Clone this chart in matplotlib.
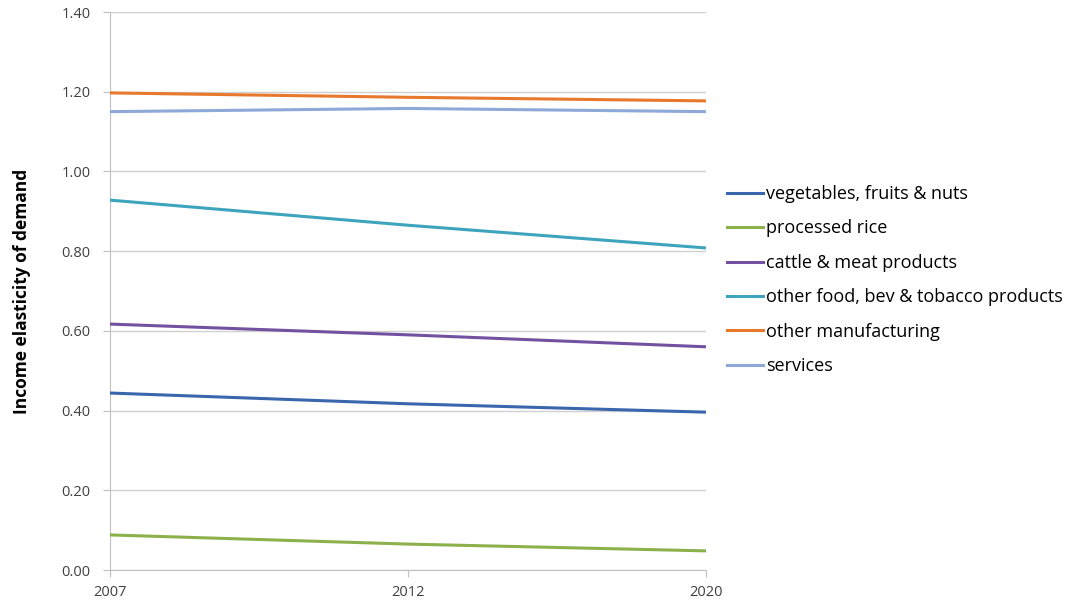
import matplotlib
matplotlib.use('Agg')
import matplotlib.pyplot as plt
from matplotlib.lines import Line2D

plt.rcParams['font.family'] = ['Open Sans', 'DejaVu Sans']

# data
years = ['2007', '2012', '2020']
veg = [0.444, 0.417, 0.396]
rice = [0.088, 0.065, 0.048]
cattle = [0.617, 0.590, 0.560]
other_food = [0.928, 0.865, 0.808]
other_manuf = [1.197, 1.186, 1.177]
services = [1.150, 1.158, 1.150]

series = [
    ('vegetables, fruits & nuts', veg, '#3A66AE'),
    ('processed rice', rice, '#8CB04A'),
    ('cattle & meat products', cattle, '#7252A0'),
    ('other food, bev & tobacco products', other_food, '#3EA4BE'),
    ('other manufacturing', other_manuf, '#E8782C'),
    ('services', services, '#8EA8D8'),
]

fig = plt.figure(figsize=(10.71, 6.02), dpi=100, facecolor='white')
ax = fig.add_axes([110 / 1071, 32 / 602, 596 / 1071, 558 / 602])

x = list(range(len(years)))
for label, vals, color in series:
    ax.plot(x, vals, color=color, lw=2.2, label=label, solid_capstyle='butt', zorder=3)

ax.set_xlim(0, len(years) - 1)
ax.set_ylim(0, 1.40)
ax.set_yticks([0, 0.2, 0.4, 0.6, 0.8, 1.0, 1.2, 1.4])
ax.set_yticklabels([f'{v:.2f}' for v in ax.get_yticks()], fontsize=10.5, color='#404040')
ax.set_xticks(x)
ax.set_xticklabels(years, fontsize=10.5, color='#404040')
ax.tick_params(axis='y', length=5, color='#BFBFBF', pad=9)
ax.tick_params(axis='x', length=5, color='#BFBFBF', pad=6)
ax.grid(axis='y', color='#D0D0D0', lw=1)
ax.set_axisbelow(True)
for s in ['top', 'right']:
    ax.spines[s].set_visible(False)
ax.spines['left'].set_color('#BFBFBF')
ax.spines['bottom'].set_color('#BFBFBF')

ax.set_ylabel('Income elasticity of demand', fontsize=12.5, fontweight='bold', labelpad=22)

handles = [Line2D([0], [0], color=c, lw=2.2) for _, _, c in series]
labels = [l for l, _, _ in series]
fig.legend(handles, labels, loc='upper left', bbox_to_anchor=(727 / 1071, 1 - 185 / 602),
           frameon=False, fontsize=13, handlelength=2.0, handletextpad=0.15,
           labelspacing=0.91, borderaxespad=0, borderpad=0)

fig.savefig('out.png', dpi=100, facecolor='white')
